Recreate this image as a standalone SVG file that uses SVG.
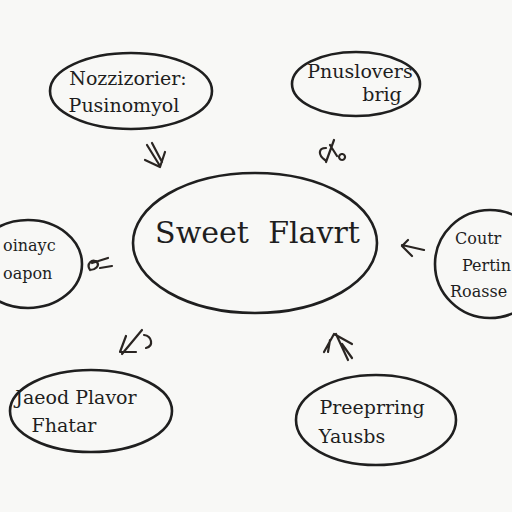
<svg xmlns="http://www.w3.org/2000/svg" width="512" height="512" viewBox="0 0 512 512">
<style>
.n{fill:none;stroke:#1f1f1f;stroke-width:2.6}
.c{fill:none;stroke:#2a2522;stroke-width:2.2;stroke-linecap:round;stroke-linejoin:round}
text{font-family:"DejaVu Serif","Liberation Serif",serif;fill:#1e1e1e;text-anchor:middle}
.t{font-size:19px}
.s{font-size:16px;text-anchor:start}
.m{font-size:30px}
</style>
<rect width="512" height="512" fill="#f8f8f6"/>
<g id="center">
<ellipse class="n" cx="255" cy="243" rx="122" ry="70" stroke-width="3.2"/>
<text class="m" x="202" y="243">Sweet</text>
<text class="m" x="314" y="243">Flavrt</text>
</g>
<g id="top-left">
<ellipse class="n" cx="131" cy="91" rx="81" ry="38"/>
<text class="t" x="128" y="85">Nozzizorier:</text>
<text class="t" x="124" y="112">Pusinomyol</text>
</g>
<g id="top-right">
<ellipse class="n" cx="356" cy="84" rx="64" ry="32"/>
<text class="t" x="360" y="78">Pnuslovers</text>
<text class="t" x="382" y="101">brig</text>
</g>
<g id="left">
<ellipse class="n" cx="28" cy="264" rx="54" ry="44"/>
<text class="s" x="3" y="251">oinayc</text>
<text class="s" x="3" y="279">oapon</text>
</g>
<g id="right">
<ellipse class="n" cx="490" cy="264" rx="55" ry="54"/>
<text class="s" x="455" y="244">Coutr</text>
<text class="s" x="462" y="271">Pertin</text>
<text class="s" x="450" y="297">Roasse</text>
</g>
<g id="bottom-left">
<ellipse class="n" cx="91" cy="411" rx="81" ry="41"/>
<text class="t" x="76" y="404">Jaeod Plavor</text>
<text class="t" x="64" y="432">Fhatar</text>
</g>
<g id="bottom-right">
<ellipse class="n" cx="376" cy="420" rx="80" ry="45"/>
<text class="t" x="372" y="414">Preeprring</text>
<text class="t" x="352" y="443">Yausbs</text>
</g>
<g id="connectors">
<path class="c" d="M147 145 L160 166 M152 143 L162 162 M145 160 L160 167 L165 152"/>
<path class="c" d="M325 160 C318 155 318 148 326 148 M334 140 L326 162 M330 145 L337 156 M342 154 a3 3 0 1 0 0.1 0"/>
<path class="c" d="M90 270 C86 264 92 258 97 262 C100 266 95 270 90 270 M92 263 L108 258 M100 268 L112 266"/>
<path class="c" d="M402 245 L424 250 M408 240 L402 246 L412 256"/>
<path class="c" d="M142 330 L122 354 M126 336 L120 352 L136 352 M144 335 C152 336 154 346 146 348"/>
<path class="c" d="M336 334 L348 360 M330 340 L328 352 M324 352 L334 334 L352 344 M342 344 L352 358"/>
</g>
</svg>
